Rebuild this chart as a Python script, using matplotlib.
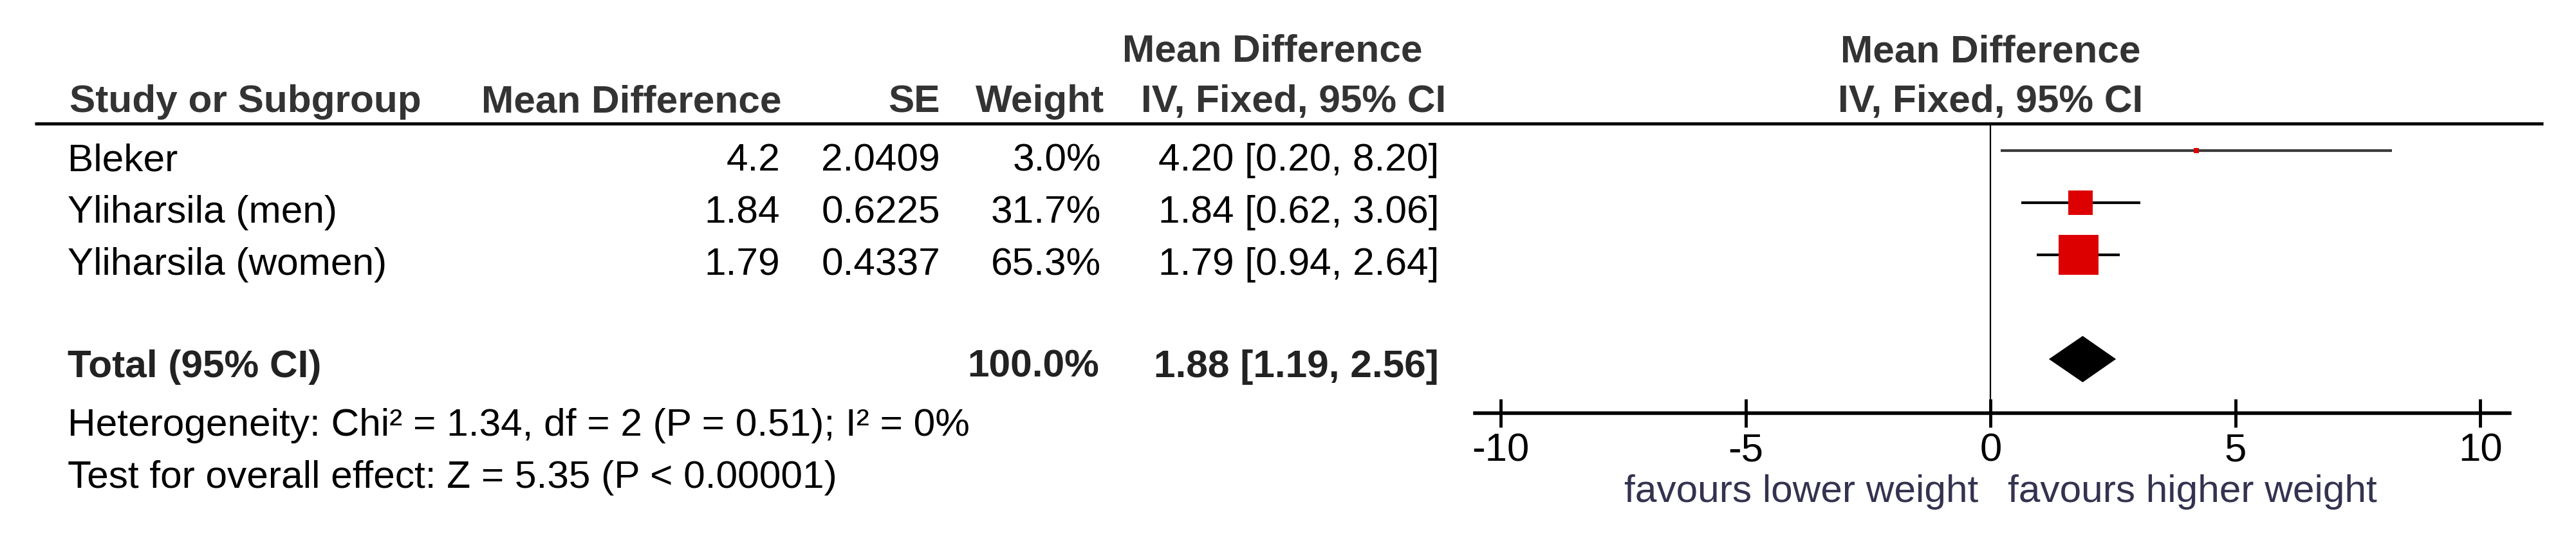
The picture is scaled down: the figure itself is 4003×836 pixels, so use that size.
import matplotlib
matplotlib.use("Agg")
from matplotlib import pyplot as plt

plt.rcParams['font.family'] = ['Liberation Sans', 'DejaVu Sans']

# data
studies = ['Bleker', 'Yliharsila (men)', 'Yliharsila (women)']
md = [4.2, 1.84, 1.79]
se = [2.0409, 0.6225, 0.4337]
weight = [3.0, 31.7, 65.3]
ci_lo = [0.20, 0.62, 0.94]
ci_hi = [8.20, 3.06, 2.64]
total_md = 1.88
total_lo, total_hi = 1.19, 2.56
heterogeneity = 'Heterogeneity: Chi\u00b2 = 1.34, df = 2 (P = 0.51); I\u00b2 = 0%'
overall = 'Test for overall effect: Z = 5.35 (P < 0.00001)'
xticks = [-10, -5, 0, 5, 10]
fav_left = 'favours lower weight'
fav_right = 'favours higher weight'

W, H = 4003, 837
fs = 43.5
hdr_col = '#333333'

fig = plt.figure(figsize=(W / 100, H / 100), dpi=100)
fig.patch.set_facecolor('white')

# text layer in pixel coordinates
at = fig.add_axes([0, 0, 1, 1])
at.set_xlim(0, W)
at.set_ylim(H, 0)
at.axis('off')

def row_y(i):
    return 235 + 81 * i

def txt(x, y, s, ha='left', bold=False, color='black'):
    at.text(x, y, s, ha=ha, va='baseline', fontsize=fs,
            fontweight='bold' if bold else 'normal', color=color)

# headers
txt(1977, 95, 'Mean Difference', ha='center', bold=True, color=hdr_col)
txt(108, 174, 'Study or Subgroup', bold=True, color=hdr_col)
txt(1214, 174, 'Mean Difference', ha='right', bold=True, color=hdr_col)
txt(1461, 174, 'SE', ha='right', bold=True, color=hdr_col)
txt(1716, 174, 'Weight', ha='right', bold=True, color=hdr_col)
txt(2010, 174, 'IV, Fixed, 95% CI', ha='center', bold=True, color=hdr_col)
txt(3093, 96, 'Mean Difference', ha='center', bold=True, color=hdr_col)
txt(3093, 174, 'IV, Fixed, 95% CI', ha='center', bold=True, color=hdr_col)
at.plot([54, 3952], [193, 193], color='black', lw=3.5, solid_capstyle='butt')

# study rows
for i, name in enumerate(studies):
    yb = row_y(i) + 30
    txt(105, yb, name)
    txt(1212, yb, str(md[i]), ha='right')
    txt(1461, yb, str(se[i]), ha='right')
    txt(1711, yb, '%.1f%%' % weight[i], ha='right')
    txt(2236, yb, '%.2f [%.2f, %.2f]' % (md[i], ci_lo[i], ci_hi[i]), ha='right')

yb = row_y(4) + 27
txt(105, yb, 'Total (95% CI)', bold=True, color='#222222')
txt(1708, yb, '%.1f%%' % sum(weight), ha='right', bold=True, color='#222222')
txt(2236, yb, '%.2f [%.2f, %.2f]' % (total_md, total_lo, total_hi), ha='right',
    bold=True, color='#222222')
txt(105, 677, heterogeneity)
txt(105, 758, overall)

# forest panel
ax_top, ax_bot = 194, 643
ax = fig.add_axes([2292 / W, 1 - ax_bot / H, (3900 - 2292) / W, (ax_bot - ax_top) / H])
ax.set_xlim(-10.53, 10.6)
ax.set_ylim(ax_bot, ax_top)
ax.patch.set_alpha(0)
for s in ['top', 'left', 'right']:
    ax.spines[s].set_visible(False)
ax.spines['bottom'].set_linewidth(4)
ax.set_yticks([])
ax.set_xticks(xticks)
ax.set_xticklabels([str(t) for t in xticks])
ax.tick_params(axis='x', direction='inout', length=32, width=3.5, pad=5, labelsize=fs + 1)
ax.axvline(0, color='black', lw=1.6, zorder=1)

for i in range(len(studies)):
    y = row_y(i)
    ax.plot([ci_lo[i], ci_hi[i]], [y, y], color='#3a3a3a' if i == 0 else 'black',
            lw=3, solid_capstyle='butt', zorder=2)
    side = 62 * (weight[i] / max(weight)) ** 0.7 * 0.72
    ax.plot(md[i], y, marker='s', ms=side, color='#DD0000', mew=0, zorder=3)

yt = row_y(4)
ax.fill([total_lo, total_md, total_hi, total_md], [yt, yt - 36, yt, yt + 36],
        color='black', lw=0, zorder=3)

txt(3074, 780, fav_left, ha='right', color='#333350')
txt(3120, 780, fav_right, ha='left', color='#333350')

fig.savefig('out.png', dpi=100, facecolor='white')
